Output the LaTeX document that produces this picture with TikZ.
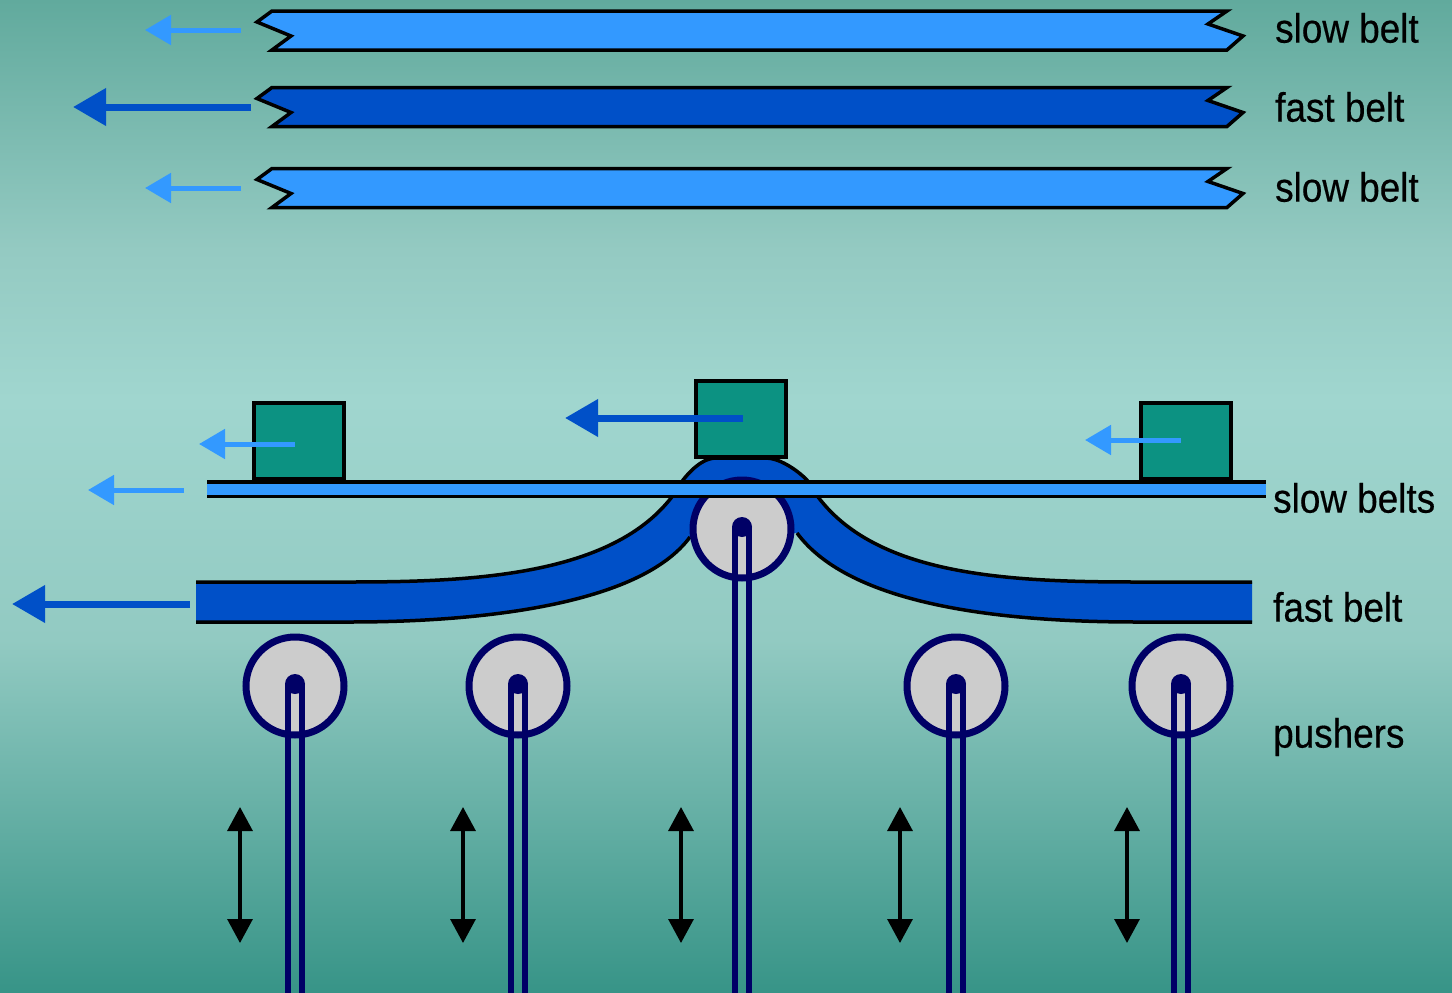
\documentclass[tikz,border=0pt]{standalone}
\usepackage{xcolor}
\usepackage{fontspec}
\usepackage{tikz}
\usetikzlibrary{arrows.meta}
\newfontfamily\beltfont[FakeStretch=0.9, FakeBold=0.4]{Liberation Sans}
\definecolor{slowblue}{RGB}{51,153,255}
\definecolor{fastblue}{RGB}{0,80,200}
\definecolor{pushnavy}{RGB}{0,0,102}
\definecolor{boxgreen}{RGB}{12,146,130}
\definecolor{pushgrey}{RGB}{204,204,204}
\definecolor{bgtop}{RGB}{97,170,157}
\definecolor{bgupper}{RGB}{148,202,194}
\definecolor{bgmid}{RGB}{160,214,207}
\definecolor{bglower}{RGB}{146,202,194}
\definecolor{bgbot}{RGB}{55,148,135}

\begin{document}
\begin{tikzpicture}[x=1pt, y=-1pt]
    % Define styles
    \tikzstyle{belt} = [draw=black, line width=3.5pt, line join=miter]
    \tikzstyle{edge} = [draw=black, line width=3.5pt]
    \tikzstyle{load} = [rectangle, draw=black, line width=4pt, fill=boxgreen, minimum width=90pt, minimum height=76pt, inner sep=0pt]
    \tikzstyle{pusher} = [circle, draw=pushnavy, line width=7pt, fill=pushgrey, minimum size=98pt, inner sep=0pt]
    \tikzstyle{pin} = [circle, fill=pushnavy, minimum size=20pt, inner sep=0pt]
    \tikzstyle{rod} = [draw=pushnavy, line width=6.5pt]
    \tikzstyle{slowarrow} = [draw=slowblue, line width=5pt, -{Triangle[length=26pt, width=29pt]}]
    \tikzstyle{fastarrow} = [draw=fastblue, line width=7pt, -{Triangle[length=33pt, width=36pt]}]
    \tikzstyle{stroke} = [draw=black, line width=3.3pt, {Triangle[length=24pt, width=25pt]}-{Triangle[length=24pt, width=25pt]}]
    \tikzstyle{caption} = [anchor=west, inner sep=0pt, text=black, font=\fontsize{41}{41}\selectfont\beltfont]

    % Background
    \useasboundingbox (0,0) rectangle (1452,993);
    \fill [top color=bgtop, bottom color=bgupper] (0,0) rectangle (1452,250);
    \fill [top color=bgupper, bottom color=bgmid] (0,250) rectangle (1452,400);
    \fill [top color=bgmid, bottom color=bglower] (0,400) rectangle (1452,640);
    \fill [top color=bglower, bottom color=bgbot] (0,640) rectangle (1452,993);

    % Upper belts
    \foreach \offs/\col in {0/slowblue, 76.5/fastblue, 157.5/slowblue} {
        \draw [belt, fill=\col, shift={(0,\offs)}] (272,11) -- (1227,11) -- (1208,24) -- (1243,36) -- (1227,50) -- (272,50) -- (291,36) -- (257,22) -- cycle;
    }

    % Fast belt
    \fill [fastblue] (196,582) -- (350,582) .. controls (480,582) and (630,575) .. (683,480) .. controls (695,465) and (706,458) .. (716,458) -- (766,458) .. controls (778,458) and (795,468) .. (807,480) .. controls (860,575) and (1000,582) .. (1137,582) -- (1252,582) -- (1252,622) -- (1137,622) .. controls (1000,622) and (850,605) .. (797,533) -- (690,537) .. controls (640,605) and (480,622) .. (350,622) -- (196,622) -- cycle;
    \draw [edge] (196,582) -- (350,582) .. controls (480,582) and (630,575) .. (683,480) .. controls (695,465) and (706,458) .. (716,458) -- (766,458) .. controls (778,458) and (795,468) .. (807,480) .. controls (860,575) and (1000,582) .. (1137,582) -- (1252,582);
    \draw [edge] (196,622) -- (350,622) .. controls (480,622) and (640,605) .. (690,537);
    \draw [edge] (797,533) .. controls (850,605) and (1000,622) .. (1137,622) -- (1252,622);

    % Pushers
    \foreach \n/\x/\y in {a/295/686, b/518/686, c/742/529, d/956/686, e/1181/686} {
        \node (pusher\n) [pusher] at (\x,\y) {};
        \node (pin\n) [pin] at (\x,\y-2) {};
        \coordinate (foot\n) at (\x,1000);
        \draw [rod] ([xshift=-7pt]pin\n.center) -- ([xshift=-7pt]foot\n);
        \draw [rod] ([xshift=7pt]pin\n.center) -- ([xshift=7pt]foot\n);
    }

    % Slow belts
    \fill [slowblue] (207,481) rectangle (1266,497);
    \draw [edge] (207,482) -- (1266,482);
    \draw [edge] (207,496.5) -- (1266,496.5);

    % Loads
    \node (loadleft) [load] at (299,440.5) {};
    \node (loadmid) [load] at (741,419) {};
    \node (loadright) [load] at (1186,440.5) {};

    % Arrows
    \foreach \n/\xa/\xb/\y in {a/241/145/30, b/241/145/188, c/184/88/490} {
        \coordinate (slowtail\n) at (\xa,\y);
        \coordinate (slowhead\n) at (\xb,\y);
        \draw [slowarrow] (slowtail\n) -- (slowhead\n);
    }
    \foreach \n/\xa/\xb/\y in {a/251/73/107, b/190/12/604} {
        \coordinate (fasttail\n) at (\xa,\y);
        \coordinate (fasthead\n) at (\xb,\y);
        \draw [fastarrow] (fasttail\n) -- (fasthead\n);
    }
    \coordinate (tailleft) at (295,444);
    \coordinate (headleft) at (199,444);
    \draw [slowarrow] (tailleft) -- (headleft);
    \coordinate (tailmid) at (743,418);
    \coordinate (headmid) at (565,418);
    \draw [fastarrow] (tailmid) -- (headmid);
    \coordinate (tailright) at (1181,440);
    \coordinate (headright) at (1085,440);
    \draw [slowarrow] (tailright) -- (headright);

    % Strokes of the pushers
    \foreach \n/\x in {a/240, b/463, c/681, d/900, e/1127} {
        \coordinate (up\n) at (\x,807);
        \coordinate (down\n) at (\x,943);
        \draw [stroke] (up\n) -- (down\n);
    }

    % Labels
    \node (slowtop) [caption] at (1275,28) {slow belt};
    \node (fasttop) [caption] at (1275,107) {fast belt};
    \node (slowlow) [caption] at (1275,187) {slow belt};
    \node (slowbelts) [caption] at (1273,498) {slow belts};
    \node (fastbelt) [caption] at (1273,607) {fast belt};
    \node (pushers) [caption] at (1273,737) {pushers};
\end{tikzpicture}
\end{document}
